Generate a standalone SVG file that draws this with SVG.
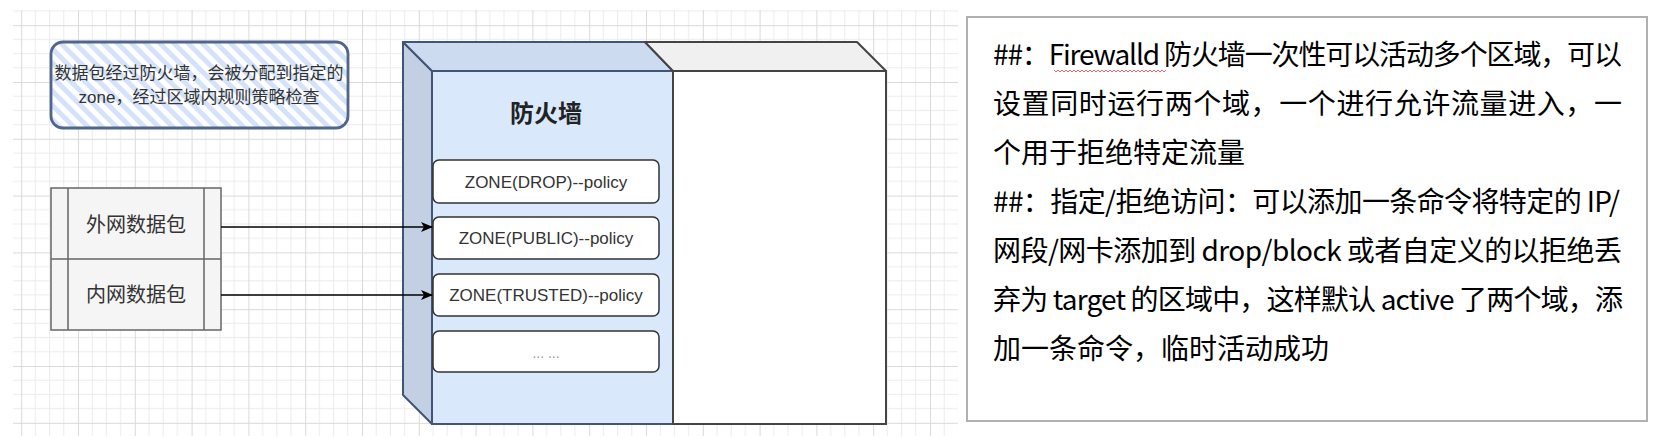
<svg xmlns="http://www.w3.org/2000/svg" width="1665" height="438" viewBox="0 0 1665 438">
<defs>
<style>
.cjk{font-family:"Liberation Sans","Noto Sans CJK SC",sans-serif;}
.zone{fill:#fff;stroke:#333;stroke-width:1.5;}
.zt{font-family:"Liberation Sans","Noto Sans CJK SC",sans-serif;font-size:17px;fill:#333;text-anchor:middle;}
.rt{font-family:"Noto Sans CJK SC",sans-serif;font-size:28px;fill:#000;}
.conn{stroke:#000;stroke-width:1.5;fill:none;}
</style>
<pattern id="grid" x="21.2" y="25.2" width="56.8" height="56.8" patternUnits="userSpaceOnUse">
<path d="M14.2 0V56.8M28.4 0V56.8M42.6 0V56.8M0 14.2H56.8M0 28.4H56.8M0 42.6H56.8" stroke="#ebebeb" stroke-width="1" fill="none"/>
<path d="M0.5 0V56.8M0 0.5H56.8" stroke="#dadada" stroke-width="1" fill="none"/>
</pattern>
<pattern id="hatch" width="10" height="10" patternUnits="userSpaceOnUse" patternTransform="rotate(-45)">
<rect width="10" height="10" fill="#fff"/>
<rect width="5" height="10" fill="#d4e3fa"/>
</pattern>
<marker id="arr" viewBox="0 0 12 10" refX="11" refY="5" markerWidth="12" markerHeight="10" markerUnits="userSpaceOnUse" orient="auto">
<path d="M0 0L12 5L0 10L3 5Z" fill="#000"/>
</marker>
</defs>
<rect width="1665" height="438" fill="#fff"/>
<rect x="13" y="10" width="945" height="426" fill="url(#grid)"/>

<g id="note">
<rect x="51" y="42" width="297" height="86" rx="12" fill="url(#hatch)" stroke="#52658a" stroke-width="2.8"/>
<text class="cjk" x="199" y="79" font-size="17" fill="#333" text-anchor="middle">数据包经过防火墙，会被分配到指定的</text>
<text class="cjk" x="199" y="103" font-size="17" fill="#333" text-anchor="middle">zone，经过区域内规则策略检查</text>
</g>

<g id="packets">
<rect x="51" y="188" width="170" height="142" fill="#f5f5f5" stroke="#666" stroke-width="1.5"/>
<path d="M68 188V330M204 188V330M51 259H221" stroke="#666" stroke-width="1.5" fill="none"/>
<text class="cjk" x="136" y="232" font-size="20" fill="#333" text-anchor="middle">外网数据包</text>
<text class="cjk" x="136" y="302" font-size="20" fill="#333" text-anchor="middle">内网数据包</text>
</g>

<g id="firewall">
<path d="M403 42L432 71V424L403 395Z" fill="#c3d0e4" stroke="#405577" stroke-width="2" stroke-linejoin="round"/>
<path d="M403 42H645L673 71H432Z" fill="#cddbf0" stroke="#405577" stroke-width="2" stroke-linejoin="round"/>
<rect x="432" y="71" width="241" height="353" fill="#dae8fc" stroke="#405577" stroke-width="2"/>
<text class="cjk" x="546" y="122" font-size="24" font-weight="bold" fill="#222" text-anchor="middle">防火墙</text>
</g>

<g id="rightblock">
<path d="M645 42H857L886 71H673Z" fill="#f0f0f0" stroke="#444" stroke-width="2" stroke-linejoin="round"/>
<rect x="673" y="71" width="213" height="353" fill="#fff" stroke="#444" stroke-width="2"/>
</g>

<g id="zone-drop">
<rect class="zone" x="433" y="160" width="226" height="43" rx="6"/>
<text class="zt" x="546" y="187.5">ZONE(DROP)--policy</text>
</g>
<g id="zone-public">
<rect class="zone" x="433" y="217" width="226" height="42" rx="6"/>
<text class="zt" x="546" y="244">ZONE(PUBLIC)--policy</text>
</g>
<g id="zone-trusted">
<rect class="zone" x="433" y="274" width="226" height="42" rx="6"/>
<text class="zt" x="546" y="301">ZONE(TRUSTED)--policy</text>
</g>
<g id="zone-more">
<rect class="zone" x="433" y="331" width="226" height="41" rx="6"/>
<text x="546" y="358" font-family="Liberation Sans, sans-serif" font-size="14" fill="#999" text-anchor="middle">... ...</text>
</g>

<g id="connectors">
<path class="conn" d="M221 227H432" marker-end="url(#arr)"/>
<path class="conn" d="M221 295H432" marker-end="url(#arr)"/>
</g>

<g id="textpanel">
<rect x="967" y="17" width="680" height="404" fill="#fff" stroke="#b0b0b0" stroke-width="2"/>
<text class="rt" x="993" y="65" textLength="629" lengthAdjust="spacing">##：Firewalld 防火墙一次性可以活动多个区域，可以</text>
<polyline points="1054,70 1056,72 1058,70 1060,72 1062,70 1064,72 1066,70 1068,72 1070,70 1072,72 1074,70 1076,72 1078,70 1080,72 1082,70 1084,72 1086,70 1088,72 1090,70 1092,72 1094,70 1096,72 1098,70 1100,72 1102,70 1104,72 1106,70 1108,72 1110,70 1112,72 1114,70 1116,72 1118,70 1120,72 1122,70 1124,72 1126,70 1128,72 1130,70 1132,72 1134,70 1136,72 1138,70 1140,72 1142,70 1144,72 1146,70 1148,72 1150,70 1152,72 1154,70 1156,72 1158,70 1160,72 1162,70 1164,72 1166,70" fill="none" stroke="#e04040" stroke-width="0.8"/>
<text class="rt" x="993" y="114" textLength="629" lengthAdjust="spacing">设置同时运行两个域，一个进行允许流量进入，一</text>
<text class="rt" x="993" y="163">个用于拒绝特定流量</text>
<text class="rt" x="993" y="212" textLength="627" lengthAdjust="spacing">##：指定/拒绝访问：可以添加一条命令将特定的 IP/</text>
<text class="rt" x="993" y="261" textLength="629" lengthAdjust="spacing">网段/网卡添加到 drop/block 或者自定义的以拒绝丢</text>
<text class="rt" x="993" y="310" textLength="630" lengthAdjust="spacing">弃为 target 的区域中，这样默认 active 了两个域，添</text>
<text class="rt" x="993" y="359">加一条命令，临时活动成功</text>
</g>
</svg>
